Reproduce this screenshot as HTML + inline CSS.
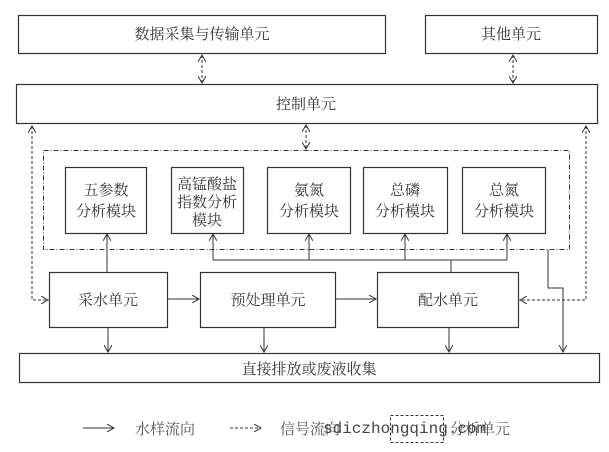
<!DOCTYPE html>
<html><head><meta charset="utf-8"><style>
body{margin:0;background:#fff;}
svg text{font-family:"Liberation Serif","Noto Serif CJK SC",serif;fill:#333;}
</style></head><body>
<svg width="609" height="447" viewBox="0 0 609 447" xmlns="http://www.w3.org/2000/svg">
<defs>
<marker id="a" markerWidth="8" markerHeight="8" refX="7" refY="4" orient="auto" markerUnits="userSpaceOnUse">
<path d="M0,0 L7,4 L0,8" fill="none" stroke="#333" stroke-width="1"/></marker>
<marker id="s" markerWidth="8" markerHeight="8" refX="1" refY="4" orient="auto" markerUnits="userSpaceOnUse">
<path d="M8,0 L1,4 L8,8" fill="none" stroke="#333" stroke-width="1"/></marker>
</defs>
<g fill="none" stroke="#333" stroke-width="1.2">
<rect x="18.5" y="15.5" width="367" height="38"/>
<rect x="425.5" y="15.5" width="172" height="38"/>
<rect x="16.5" y="84.5" width="581" height="39"/>
<rect x="43.5" y="150.5" width="526" height="99" stroke-dasharray="5,2,1,2" stroke-width="1"/>
<rect x="65.5" y="167.5" width="81" height="66"/>
<rect x="171.5" y="167.5" width="72" height="66"/>
<rect x="267.5" y="167.5" width="83" height="66"/>
<rect x="363.5" y="167.5" width="84" height="66"/>
<rect x="462.5" y="167.5" width="83" height="66"/>
<rect x="49.5" y="272.5" width="118" height="55"/>
<rect x="200.5" y="272.5" width="135" height="55"/>
<rect x="377.5" y="272.5" width="141" height="55"/>
<rect x="19.5" y="353.5" width="580" height="29"/>
</g>
<g fill="none" stroke="#333" stroke-width="1">
<g stroke-dasharray="3,2">
<line x1="202" y1="55" x2="202" y2="83" marker-start="url(#s)" marker-end="url(#a)"/>
<line x1="513" y1="55" x2="513" y2="83" marker-start="url(#s)" marker-end="url(#a)"/>
<line x1="306" y1="125" x2="306" y2="149" marker-start="url(#s)" marker-end="url(#a)"/>
<polyline points="32,126 32,300 48,300" marker-start="url(#s)" marker-end="url(#a)"/>
<polyline points="586,126 586,300 520,300" marker-start="url(#s)" marker-end="url(#a)"/>
</g>
<line x1="107" y1="272" x2="107" y2="234" marker-end="url(#a)"/>
<line x1="451" y1="272" x2="451" y2="260"/>
<line x1="213" y1="260" x2="507" y2="260"/>
<line x1="213" y1="260" x2="213" y2="234" marker-end="url(#a)"/>
<line x1="309" y1="260" x2="309" y2="234" marker-end="url(#a)"/>
<line x1="405" y1="260" x2="405" y2="234" marker-end="url(#a)"/>
<line x1="507" y1="260" x2="507" y2="234" marker-end="url(#a)"/>
<line x1="168" y1="299" x2="199" y2="299" marker-end="url(#a)"/>
<line x1="336" y1="299" x2="376" y2="299" marker-end="url(#a)"/>
<line x1="108" y1="328" x2="108" y2="352" marker-end="url(#a)"/>
<line x1="264" y1="328" x2="264" y2="352" marker-end="url(#a)"/>
<line x1="449" y1="328" x2="449" y2="352" marker-end="url(#a)"/>
<polyline points="548,250 548,288 563,288 563,352" marker-end="url(#a)"/>
<line x1="83" y1="428" x2="114" y2="428" marker-end="url(#a)"/>
<line x1="230" y1="428" x2="261" y2="428" stroke-dasharray="3,2" marker-end="url(#a)"/>
<rect x="390.5" y="415.5" width="53" height="27" stroke-dasharray="3,2"/>
</g>
<g font-size="15" text-anchor="middle">
<text x="202" y="39">数据采集与传输单元</text>
<text x="511" y="39">其他单元</text>
<text x="306" y="109">控制单元</text>
<text x="106" y="195">五参数</text><text x="106" y="216">分析模块</text>
<text x="207" y="189">高锰酸盐</text><text x="207" y="207">指数分析</text><text x="207" y="225">模块</text>
<text x="309" y="195">氨氮</text><text x="309" y="216">分析模块</text>
<text x="405" y="195">总磷</text><text x="405" y="216">分析模块</text>
<text x="504" y="195">总氮</text><text x="504" y="216">分析模块</text>
<text x="108" y="305">采水单元</text>
<text x="268" y="305">预处理单元</text>
<text x="448" y="305">配水单元</text>
<text x="309" y="374">直接排放或废液收集</text>
</g>
<g font-size="15">
<text x="135" y="434" style="fill:#555">水样流向</text>
<text x="280" y="434" style="fill:#555">信号流向</text>
<text x="450" y="434" style="fill:#555">分析单元</text>
</g>
<text x="323" y="433" font-size="16" style="font-family:'Liberation Mono',monospace;fill:#444">sdiczhongqing.com</text>
</svg>
</body></html>
